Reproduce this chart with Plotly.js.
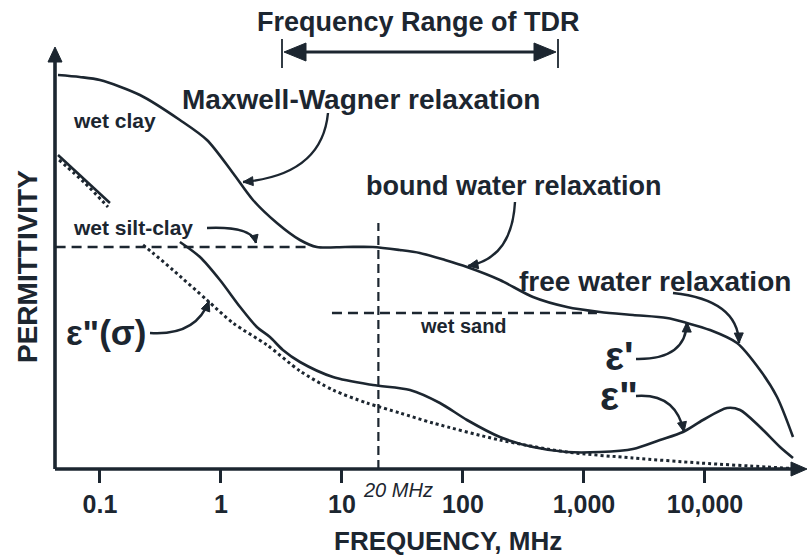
<!DOCTYPE html>
<html>
<head>
<meta charset="utf-8">
<script src="https://cdn.plot.ly/plotly-3.0.1.min.js"></script>
<style>html,body{margin:0;padding:0;background:#fff;}#chart{width:807px;height:560px;}</style>
</head>
<body>
<div id="chart"></div>
<script>
// ---- data (frequency in MHz, permittivity in arbitrary units) ----
const tickVals = [0.1, 1, 10, 100, 1000, 10000];
const tickText = ['0.1', '1', '10', '100', '1,000', '10,000'];

// wet clay epsilon' (solid, upper curve)
const clayFreq = [0.045, 0.068, 0.1, 0.214, 0.458, 0.766, 1.256, 1.84, 2.9, 4.5, 6.2, 10.6, 18, 30, 44, 71, 108, 202, 379, 724, 1356, 2540, 4850, 7100, 11000, 18400, 28500, 39400, 53400];
const clayEps  = [394, 392, 389, 374, 349, 329, 296, 269, 246, 229, 222, 222, 222, 219, 216, 209, 202, 189, 172, 162, 157, 154, 151, 146, 139, 126, 99, 72, 32];

// epsilon'' (solid, lower curve)
const lossFreq = [0.458, 0.671, 0.981, 1.44, 1.98, 2.54, 3.25, 4.5, 8.43, 18, 36.5, 64.5, 108, 202, 379, 724, 1356, 2540, 4250, 6580, 9620, 15200, 19500, 28500, 41700, 53400];
const lossEps  = [227, 212, 189, 162, 142, 132, 119, 107, 92, 84, 79, 66, 49, 32, 22, 17, 17, 20, 29, 37, 49, 61, 59, 42, 22, 11];

// epsilon''(sigma) conductivity loss (dotted)
const sigFreq = [0.046, 0.075, 0.1165, null, 0.227, 0.274, 0.401, 0.766, 1.256, 2.4, 4.5, 8.43, 16.1, 30.2, 56.5, 202, 724, 2540, 9100, 32500, 61000];
const sigEps  = [309, 286, 262, null, 224, 216, 199, 169, 146, 124, 98, 79, 66, 56, 46, 29, 17, 11, 6, 2, 0];

// short solid slope segment at low frequency
const slopeFreq = [0.045, 0.121];
const slopeEps  = [314, 266];

// wet silt-clay epsilon' plateau (dashed)
const siltFreq = [0.043, 5];
const siltEps  = [222, 222];

// wet sand epsilon' plateau (dashed)
const sandFreq = [8.27, 1280];
const sandEps  = [156, 156];

// 20 MHz marker (dashed vertical)
const markFreq = [20, 20];
const markEps  = [0, 246];

// ---- styling / layout helpers ----
const ink = '#1c2630';
const FONT = 'Arial, "Liberation Sans", sans-serif';
const L = 55, R = 7, T = 50, B = 91, W = 807, H = 560;
const PW = W - L - R, PH = H - T - B;
const X = px => (px - L) / PW;
const Y = py => (H - B - py) / PH;

function line(x, y, opts) {
  return {
    x: x, y: y, type: 'scatter', mode: 'lines', hoverinfo: 'skip',
    connectgaps: false,
    line: Object.assign({color: ink, width: 2.6, shape: 'spline', smoothing: 0.8}, opts || {})
  };
}

const traces = [
  line(clayFreq, clayEps),
  line(lossFreq, lossEps),
  line(sigFreq, sigEps, {dash: 'dot', width: 3}),
  line(slopeFreq, slopeEps, {shape: 'linear'}),
  line(siltFreq, siltEps, {dash: '10px,6px', width: 2.5, shape: 'linear'}),
  line(sandFreq, sandEps, {dash: '10px,6px', width: 2.5, shape: 'linear'}),
  line(markFreq, markEps, {dash: '9px,5px', width: 2.2, shape: 'linear'})
];

const shapes = [];
function tri(tx, ty, dx, dy, hl, hw) {
  const n = Math.hypot(dx, dy); dx /= n; dy /= n;
  const bx = tx - dx * hl, by = ty - dy * hl;
  const nx = -dy, ny = dx;
  shapes.push({type: 'path', xref: 'paper', yref: 'paper', layer: 'above',
    path: `M ${X(tx)},${Y(ty)} L ${X(bx + nx * hw)},${Y(by + ny * hw)} L ${X(bx - nx * hw)},${Y(by - ny * hw)} Z`,
    fillcolor: ink, line: {color: ink, width: 1}});
}
function curveArrow(x0, y0, cx, cy, x1, y1, hl, hw) {
  shapes.push({type: 'path', xref: 'paper', yref: 'paper', layer: 'above',
    path: `M ${X(x0)},${Y(y0)} Q ${X(cx)},${Y(cy)} ${X(x1)},${Y(y1)}`,
    line: {color: ink, width: 2.4}});
  tri(x1, y1, x1 - cx, y1 - cy, hl || 10, hw || 4.5);
}
function seg(x0, y0, x1, y1, w) {
  shapes.push({type: 'line', xref: 'paper', yref: 'paper', layer: 'above',
    x0: X(x0), y0: Y(y0), x1: X(x1), y1: Y(y1), line: {color: ink, width: w || 2.5}});
}

// axis lines and arrowheads
tri(55, 47, 0, -1, 15, 7);
tri(807, 469, 1, 0, 16, 7);
seg(55, 62, 55, 469, 3.6);
seg(55, 469, 795, 469, 3.6);

// Frequency range of TDR double arrow
seg(300, 52, 540, 52, 2.8);
tri(284, 52, -1, 0, 22, 9);
tri(556, 52, 1, 0, 22, 9);
seg(282, 39, 282, 68, 1.8);
seg(558, 39, 558, 68, 1.8);

// label arrows
curveArrow(328, 113, 322, 175, 243, 182);
curveArrow(515, 202, 512, 258, 468, 266);
curveArrow(207, 228, 252, 226, 256, 243, 8, 4);
curveArrow(150, 333, 196, 336, 209, 301);
curveArrow(673, 293, 738, 300, 739, 343);
curveArrow(636, 359, 686, 360, 687, 322);
curveArrow(636, 396, 676, 393, 684, 432);

const annotations = [];
function txt(text, px, py, size, extra) {
  annotations.push(Object.assign({
    text: text, xref: 'paper', yref: 'paper', x: X(px), y: Y(py),
    xanchor: 'center', yanchor: 'middle', showarrow: false,
    font: {family: FONT, size: size, color: ink, weight: 700}
  }, extra || {}));
}
txt('Frequency Range of TDR', 418, 22, 27);
txt('Maxwell-Wagner relaxation', 361, 99, 28);
txt('bound water relaxation', 514, 186, 27);
txt('free water relaxation', 655, 281, 28);
txt('wet clay', 114, 120, 21);
txt('wet silt-clay', 133, 227, 21);
txt('wet sand', 463, 326, 20);
txt('20 MHz', 398, 490, 20, {font: {family: FONT, size: 20, color: ink, style: 'italic'}});
txt('ε"(σ)', 106, 332, 35, {font: {family: FONT, size: 35, color: ink, weight: 700}});
txt("ε'", 619, 356, 40, {font: {family: FONT, size: 40, color: ink, weight: 700}});
txt('ε"', 619, 396, 40, {font: {family: FONT, size: 40, color: ink, weight: 700}});
txt('PERMITTIVITY', 27, 267, 28, {textangle: -90});
txt('FREQUENCY, MHz', 448, 541, 26);

const layout = {
  width: W, height: H,
  margin: {l: L, r: R, t: T, b: B, pad: 0},
  paper_bgcolor: '#ffffff', plot_bgcolor: '#ffffff',
  showlegend: false, hovermode: false,
  xaxis: {
    type: 'log', range: [Math.log10(0.04252), Math.log10(61000)],
    tickvals: tickVals, ticktext: tickText,
    ticks: 'outside', ticklen: 13, tickwidth: 3, tickcolor: ink,
    tickfont: {family: FONT, size: 25, color: ink, weight: 700},
    showline: false, showgrid: false, zeroline: false, fixedrange: true
  },
  yaxis: {
    range: [0, PH], showline: false, showgrid: false, zeroline: false,
    showticklabels: false, ticks: '', fixedrange: true
  },
  shapes: shapes,
  annotations: annotations
};

Plotly.newPlot('chart', traces, layout, {displayModeBar: false, staticPlot: true});
</script>
</body>
</html>
